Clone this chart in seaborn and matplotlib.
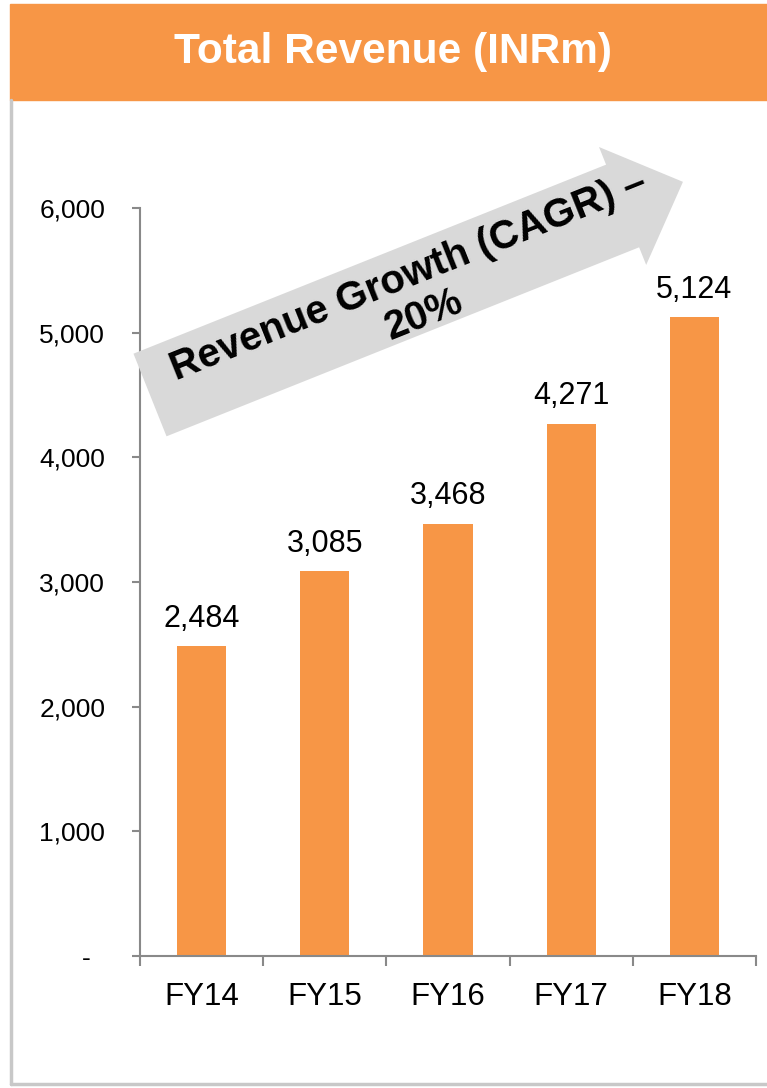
import numpy as np
import pandas as pd
import matplotlib
matplotlib.use('Agg')
import matplotlib.pyplot as plt
from matplotlib.patches import Polygon, Rectangle
from matplotlib.lines import Line2D
import seaborn as sns

# data
years = ['FY14', 'FY15', 'FY16', 'FY17', 'FY18']
revenue = [2484, 3085, 3468, 4271, 5124]
y_ticks = [0, 1000, 2000, 3000, 4000, 5000, 6000]
title = 'Total Revenue (INRm)'
arrow_text = 'Revenue Growth (CAGR) –\n20%'

orange = '#F79646'
arrow_grey = '#D9D9D9'
axis_grey = '#898989'

sns.set_style('ticks')
plt.rcParams['font.family'] = ['Liberation Sans', 'DejaVu Sans']
plt.rcParams['text.color'] = 'black'
plt.rcParams['xtick.labelcolor'] = 'black'
plt.rcParams['ytick.labelcolor'] = 'black'

W, H = 767, 1088
fig = plt.figure(figsize=(W / 100, H / 100), dpi=100)

# pixel -> figure fraction helpers
def fx(x):
    return x / W

def fy(y):
    return 1 - y / H

#Bar chart
ax = fig.add_axes([fx(140), fy(956), fx(756) - fx(140), fy(208) - fy(956)])
df = pd.DataFrame({'year': years, 'revenue': revenue})
sns.barplot(data=df, x='year', y='revenue', color=orange, width=0.4,
            saturation=1, linewidth=0, ax=ax)
ax.bar_label(ax.containers[0], labels=[f'{v:,}' for v in revenue],
             padding=9, fontsize=22, color='black')

ax.set_ylim(0, 6000)
ax.set_xlim(-0.5, len(years) - 0.5)
ax.set_xlabel('')
ax.set_ylabel('')

ax.set_yticks(y_ticks)
ax.set_yticklabels([f'{v:,}' if v else '-  ' for v in y_ticks], fontsize=19)
ax.set_xticks(np.arange(len(years) + 1) - 0.5)
ax.set_xticklabels([])
ax.set_xticks(range(len(years)), minor=True)
ax.set_xticklabels(years, minor=True, fontsize=22.5)

ax.tick_params(axis='y', length=6, width=1.5, color=axis_grey, pad=19,
               labelcolor='black')
ax.tick_params(axis='x', which='major', length=7, width=1.5, color=axis_grey)
ax.tick_params(axis='x', which='minor', length=0, pad=19, labelcolor='black')
sns.despine(ax=ax)
for s in ['left', 'bottom']:
    ax.spines[s].set_color(axis_grey)
    ax.spines[s].set_linewidth(1.5)

#Header band and frame
fig.patches.append(Rectangle((fx(10), fy(100)), fx(767) - fx(10), fy(4) - fy(100),
                             transform=fig.transFigure, color=orange, zorder=1))
fig.text(fx(393), fy(63), title, ha='center', va='baseline', color='white',
         fontsize=30.5, fontweight='bold')
fig.lines.append(Line2D([fx(11), fx(11)], [fy(100), fy(1084)], color='#C8C8C8',
                        lw=2.5, transform=fig.transFigure))
fig.lines.append(Line2D([fx(11), fx(767)], [fy(1084), fy(1084)], color='#C8C8C8',
                        lw=2.5, transform=fig.transFigure))

#Growth arrow
ang = np.deg2rad(21.8)
u = np.array([np.cos(ang), -np.sin(ang)])
n = np.array([np.sin(ang), np.cos(ang)])
tail = np.array([150, 395])
shaft_len, half_w, head_half, head_len = 509, 44.5, 63.5, 65
base = tail + u * shaft_len
pts = [tail - n * half_w, base - n * half_w, base - n * head_half,
       base + u * head_len, base + n * head_half, base + n * half_w,
       tail + n * half_w]
fig.patches.append(Polygon([(fx(x), fy(y)) for x, y in pts], closed=True,
                           transform=fig.transFigure, facecolor=arrow_grey,
                           edgecolor='none', zorder=5))
fig.text(fx(416), fy(295), arrow_text, rotation=21.8, rotation_mode='anchor',
         ha='center', va='center', multialignment='center', fontsize=29,
         fontweight='bold', linespacing=1.15, color='black', zorder=6)

fig.savefig('out.png', dpi=100)
